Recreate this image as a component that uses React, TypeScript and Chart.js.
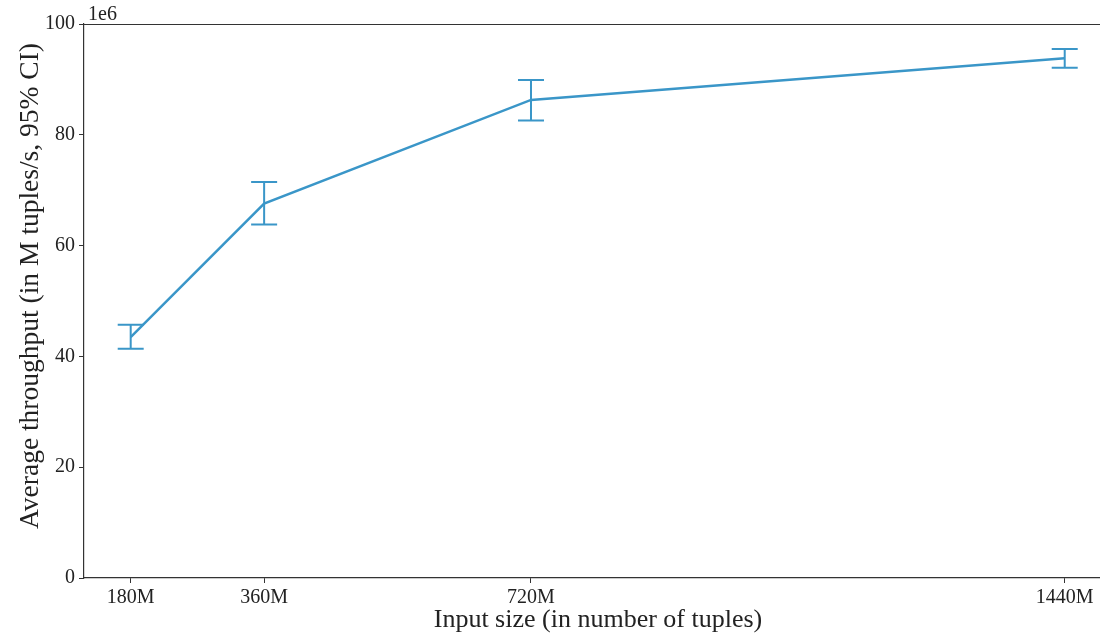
import React, { useEffect, useRef } from "react";
import { Chart, registerables } from "chart.js";

Chart.register(...registerables);

const inputSizes = [180, 360, 720, 1440];
const meanThroughput = [43.5, 67.6, 86.3, 93.8];
const ciLow = [41.4, 63.8, 82.6, 92.1];
const ciHigh = [45.7, 71.5, 89.9, 95.5];
const xTickValues = [180, 360, 720, 1440];
const yTickValues = [0, 20, 40, 60, 80, 100];
const xTitle = "Input size (in number of tuples)";
const yTitle = "Average throughput (in M tuples/s, 95% CI)";

const LINE_COLOR = "#3a96c8";
const FONT = "'Liberation Serif', 'DejaVu Serif', serif";

const extrasPlugin = {
  id: "extras",
  afterDatasetsDraw(chart: any) {
    const { ctx, chartArea, scales } = chart;
    const xs = scales.x;
    const ys = scales.y;
    ctx.save();
    // error bars
    ctx.strokeStyle = LINE_COLOR;
    ctx.lineWidth = 2;
    for (let i = 0; i < inputSizes.length; i++) {
      const px = xs.getPixelForValue(inputSizes[i]);
      const lo = ys.getPixelForValue(ciLow[i]);
      const hi = ys.getPixelForValue(ciHigh[i]);
      ctx.beginPath();
      ctx.moveTo(px, lo);
      ctx.lineTo(px, hi);
      ctx.moveTo(px - 13, lo);
      ctx.lineTo(px + 13, lo);
      ctx.moveTo(px - 13, hi);
      ctx.lineTo(px + 13, hi);
      ctx.stroke();
    }
    // top spine
    ctx.strokeStyle = "#333333";
    ctx.lineWidth = 1.2;
    ctx.beginPath();
    ctx.moveTo(chartArea.left, chartArea.top + 0.5);
    ctx.lineTo(chartArea.right, chartArea.top + 0.5);
    ctx.stroke();
    // offset text
    ctx.fillStyle = "#222222";
    ctx.font = `20px ${FONT}`;
    ctx.textAlign = "left";
    ctx.textBaseline = "alphabetic";
    ctx.fillText("1e6", chartArea.left + 4, chartArea.top - 4);
    // axis titles
    ctx.font = `26px ${FONT}`;
    ctx.textAlign = "center";
    ctx.textBaseline = "middle";
    ctx.fillText(xTitle, 598, 620);
    ctx.translate(31, 286);
    ctx.rotate(-Math.PI / 2);
    ctx.font = `27.5px ${FONT}`;
    ctx.fillText(yTitle, 0, 0);
    ctx.restore();
  },
};

export default function App() {
  const canvasRef = useRef<HTMLCanvasElement>(null);

  useEffect(() => {
    const canvas = canvasRef.current;
    if (!canvas) return;
    const chart = new Chart(canvas, {
      type: "line",
      data: {
        datasets: [
          {
            data: inputSizes.map((x, i) => ({ x, y: meanThroughput[i] })),
            borderColor: LINE_COLOR,
            borderWidth: 2.5,
            pointRadius: 0,
            tension: 0,
            fill: false,
          },
        ],
      },
      options: {
        animation: false,
        responsive: false,
        maintainAspectRatio: false,
        layout: { padding: { top: 24, right: 0, left: 0, bottom: 0 } },
        plugins: {
          legend: { display: false },
          tooltip: { enabled: false },
        },
        scales: {
          x: {
            type: "linear",
            min: 117,
            max: 1487.6,
            afterBuildTicks: (scale: any) => {
              scale.ticks = xTickValues.map((v) => ({ value: v }));
            },
            afterFit: (scale: any) => {
              scale.height = 57;
            },
            grid: {
              drawOnChartArea: false,
              drawTicks: true,
              tickLength: 5,
              color: "#333333",
            },
            border: { display: true, color: "#333333", width: 1.2 },
            ticks: {
              autoSkip: false,
              maxRotation: 0,
              padding: 3,
              color: "#222222",
              font: { family: FONT, size: 20 },
              callback: (v: any) => `${v}M`,
            },
          },
          y: {
            min: 0,
            max: 100,
            afterBuildTicks: (scale: any) => {
              scale.ticks = yTickValues.map((v) => ({ value: v }));
            },
            afterFit: (scale: any) => {
              scale.width = 84;
            },
            grid: {
              drawOnChartArea: false,
              drawTicks: true,
              tickLength: 5,
              color: "#333333",
            },
            border: { display: true, color: "#333333", width: 1.2 },
            ticks: {
              padding: 4,
              color: "#222222",
              font: { family: FONT, size: 20 },
            },
          },
        },
      },
      plugins: [extrasPlugin],
    });
    return () => chart.destroy();
  }, []);

  return (
    <div style={{ position: "absolute", left: 0, top: 0, width: 1100, height: 635, background: "#fff" }}>
      <canvas ref={canvasRef} width={1100} height={635} style={{ width: 1100, height: 635 }} />
    </div>
  );
}
